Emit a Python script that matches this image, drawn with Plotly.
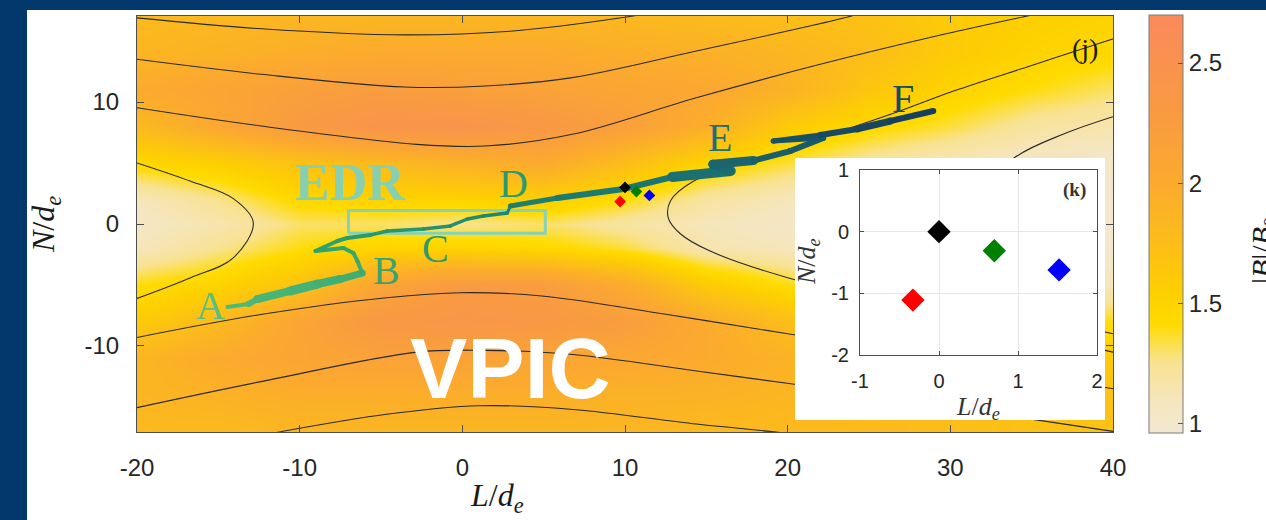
import plotly.graph_objects as go

W, H = 1266, 520

# ---------------- data ----------------
grid_L = [-20, -15, -10, -5, 0, 5, 10, 15, 20, 25, 30, 35, 40]
grid_N = [-17, -14, -11, -8, -5, -2, 0, 2, 5, 8, 11, 14, 17]
B_ratio = [
    [1.80, 1.80, 1.85, 1.85, 1.85, 1.85, 1.85, 1.80, 1.80, 1.80, 1.75, 1.70, 1.70],  # N=-17
    [1.85, 1.90, 1.95, 1.95, 1.95, 1.95, 1.90, 1.90, 1.85, 1.80, 1.75, 1.70, 1.70],  # N=-14
    [1.85, 2.00, 2.10, 2.15, 2.15, 2.10, 2.05, 2.00, 1.90, 1.75, 1.65, 1.60, 1.60],  # N=-11
    [1.60, 1.80, 2.10, 2.35, 2.40, 2.35, 2.25, 2.00, 1.75, 1.55, 1.45, 1.40, 1.40],  # N=-8
    [1.40, 1.50, 1.70, 2.10, 2.30, 2.25, 2.00, 1.60, 1.40, 1.25, 1.15, 1.10, 1.10],  # N=-5
    [1.10, 1.25, 1.40, 1.50, 1.50, 1.45, 1.35, 1.15, 1.10, 1.05, 1.02, 1.00, 1.00],  # N=-2
    [1.05, 1.15, 1.30, 1.30, 1.25, 1.30, 1.20, 1.10, 1.05, 1.02, 1.00, 1.00, 1.00],  # N=0
    [1.10, 1.25, 1.45, 1.50, 1.50, 1.55, 1.40, 1.20, 1.10, 1.05, 1.02, 1.00, 1.00],  # N=2
    [1.45, 1.55, 1.70, 1.80, 1.90, 2.00, 1.75, 1.50, 1.35, 1.20, 1.10, 1.05, 1.02],  # N=5
    [1.80, 2.05, 2.30, 2.45, 2.45, 2.35, 2.20, 1.95, 1.60, 1.45, 1.35, 1.20, 1.15],  # N=8
    [2.00, 2.10, 2.20, 2.25, 2.20, 2.15, 2.10, 2.05, 1.90, 1.65, 1.50, 1.40, 1.30],  # N=11
    [1.85, 1.90, 1.95, 2.00, 2.00, 2.00, 1.95, 1.92, 1.85, 1.75, 1.60, 1.50, 1.45],  # N=14
    [1.80, 1.82, 1.85, 1.85, 1.85, 1.85, 1.82, 1.80, 1.75, 1.70, 1.60, 1.55, 1.50],  # N=17
]

# magnetic field lines
fl_top1_L = [-20, -12.35, -3.56, 2.95, 9.77, 11.5]
fl_top1_N = [16.9, 16.0, 15.5, 15.8, 16.9, 17.3]
fl_top2_L = [-20, -12.35, -3.56, 1.41, 6.76, 14.38, 23.5, 25]
fl_top2_N = [13.5, 12.27, 11.23, 11.31, 12.0, 14.18, 16.9, 17.5]
fl_top3_L = [-20, -12.35, -2.8, 1.41, 6.76, 14.38, 22.0, 29.6, 34.2, 36]
fl_top3_N = [9.53, 8.03, 6.53, 6.39, 7.35, 10.35, 13.09, 15.55, 16.9, 17.4]
fl_left_L = [-20, -16.7, -14.1, -12.85, -14.1, -16.7, -20]
fl_left_N = [5.0, 3.5, 2.1, 0.1, -2.8, -4.4, -6.1]
fl_right_L = [40, 30, 20.0, 15.2, 13.4, 12.66, 12.8, 14.2, 17.0, 20.0, 22.8, 26.9, 30.2, 35, 39.6, 41]
fl_right_N = [-10.5, -7.5, -4.4, -2.2, -0.8, 0.5, 1.9, 3.5, 4.9, 6.0, 7.38, 9.26, 10.9, 13.0, 15.0, 15.6]
fl_isl_L = [40, 37, 33.9, 31.5, 31, 32, 35, 40]
fl_isl_N = [8.8, 7.4, 5.4, 2.0, -1, -4, -7, -9.0]
fl_bot1_L = [-20, -12.3, -4.67, -0.1, 4.89, 12.5, 20.2, 30, 40]
fl_bot1_N = [-9.3, -7.4, -6.04, -5.63, -5.9, -7.4, -9.04, -11.2, -13.5]
fl_bot2_L = [-20, -12.3, -2.77, 1.44, 6.8, 14.4, 20.2, 30, 40]
fl_bot2_N = [-15.05, -12.9, -10.5, -10.36, -10.7, -12.05, -13.1, -15.0, -17.0]
fl_bot3_L = [-13.5, -11.9, -4.67, 1.04, 6.8, 14.4, 20.2, 22]
fl_bot3_N = [-17.6, -17.2, -15.6, -14.9, -15.2, -16.4, -17.2, -17.6]
field_lines = [(fl_top1_L, fl_top1_N), (fl_top2_L, fl_top2_N), (fl_top3_L, fl_top3_N),
               (fl_left_L, fl_left_N), (fl_right_L, fl_right_N), (fl_isl_L, fl_isl_N),
               (fl_bot1_L, fl_bot1_N), (fl_bot2_L, fl_bot2_N), (fl_bot3_L, fl_bot3_N)]

# spacecraft-frame trajectory A..F
traj_L = [-14.44, -13.15, -12.60, -10.57, -8.91, -7.50, -6.15, -6.45, -6.70, -7.31, -9.03,
          -7.68, -7.07, -5.65, -4.61, -2.40, -0.74, 0.31, 1.29, 2.77, 2.95, 5.84, 9.90,
          12.90, 16.50, 15.40, 17.90, 20.16, 22.19, 19.11, 22.00, 24.28, 26.31, 28.95]
traj_N = [-6.80, -6.56, -6.15, -5.49, -4.92, -4.51, -4.02, -3.03, -2.38, -1.97, -2.21,
          -1.39, -1.15, -0.90, -0.57, -0.41, -0.16, 0.41, 0.66, 0.90, 1.48, 2.13, 2.87,
          3.85, 4.35, 4.90, 5.20, 5.98, 7.05, 6.80, 7.30, 7.79, 8.44, 9.26]

label_text = ["A", "B", "C", "D", "E", "F"]
label_L = [-15.47, -4.67, -1.66, 3.13, 15.86, 27.1]
label_N = [-6.64, -3.85, -1.97, 3.36, 7.05, 10.3]

edr_L = [-7.0, 5.1]
edr_N = [-0.75, 1.1]

probe_names = ["black", "green", "blue", "red"]
probe_L = [10.0, 10.7, 11.5, 9.7]
probe_N = [3.0, 2.66, 2.34, 1.84]
probe_dL = [0.0, 0.70, 1.52, -0.33]
probe_dN = [0.0, -0.31, -0.62, -1.11]

main_xticks = [-20, -10, 0, 10, 20, 30, 40]
main_yticks = [-10, 0, 10]
inset_xticks = [-1, 0, 1, 2]
inset_yticks = [-2, -1, 0, 1]
cbar_ticks = [1, 1.5, 2, 2.5]

# ---------------- styles ----------------
NAVY = "#02386b"
probe_colors = ["#000000", "#008000", "#0000ff", "#ff0000"]
label_colors = ["#5cbe82", "#3fa26c", "#2f9a6a", "#2d9a6e", "#1f6f78", "#1b4a66"]
traj_width = [4, 6, 8, 9, 8, 7, 4, 4, 4, 4, 4, 4, 4, 3.5, 3.5, 3.5, 3.5, 3.5, 3.5, 3,
              5, 6, 6, 10, 9, 9, 6, 6, 5, 5, 6, 7, 6]
traj_stops = [(0.0, (78, 186, 122)), (0.3, (48, 162, 108)), (0.55, (32, 138, 112)),
              (0.7, (27, 115, 113)), (0.82, (25, 95, 110)), (1.0, (22, 64, 96))]
colorscale = [[0.0, "#f2e8d2"], [0.07, "#f5e6c0"], [0.17, "#f8e290"], [0.26, "#ffdb00"],
              [0.33, "#fdd000"], [0.45, "#fcbe18"], [0.6, "#fbaa2e"], [0.75, "#f99c40"],
              [0.88, "#f9924e"], [1.0, "#fa8a5c"]]


def traj_color(t):
    for (t0, c0), (t1, c1) in zip(traj_stops[:-1], traj_stops[1:]):
        if t <= t1:
            f = (t - t0) / (t1 - t0)
            c = [round(a + (b - a) * f) for a, b in zip(c0, c1)]
            return "rgb(%d,%d,%d)" % tuple(c)
    return "rgb(%d,%d,%d)" % traj_stops[-1][1]


def px(x):
    return x / W


def py(y):
    return 1 - y / H


SANS = "Liberation Sans"
SERIF = "Liberation Serif"
TICKC = "#262626"

fig = go.Figure()

fig.add_trace(go.Heatmap(
    x=grid_L, y=grid_N, z=B_ratio, zsmooth="best", colorscale=colorscale,
    zmin=0.96, zmax=2.7, hoverinfo="skip",
    colorbar=dict(
        x=px(1149), xanchor="left", xpad=0, thickness=34, thicknessmode="pixels",
        len=418 / H, lenmode="fraction", y=py(15 + 209), yanchor="middle", ypad=0,
        outlinecolor="#7a7a7a", outlinewidth=1,
        tickvals=cbar_ticks, ticktext=[str(v) for v in cbar_ticks],
        ticks="inside", ticklen=5, tickcolor="#555555",
        tickfont=dict(family=SANS, size=24, color=TICKC),
    ),
))

for fl_L, fl_N in field_lines:
    fig.add_trace(go.Scatter(x=fl_L, y=fl_N, mode="lines", hoverinfo="skip",
                             line=dict(color="#2a2a2a", width=1.1, shape="spline", smoothing=1.0)))

# EDR box
fig.add_trace(go.Scatter(
    x=[edr_L[0], edr_L[1], edr_L[1], edr_L[0], edr_L[0]],
    y=[edr_N[0], edr_N[0], edr_N[1], edr_N[1], edr_N[0]],
    mode="lines", line=dict(color="#84d2bb", width=3), hoverinfo="skip"))

# trajectory
nseg = len(traj_L) - 1
for i in range(nseg):
    c = traj_color(i / (nseg - 1))
    w = traj_width[i]
    fig.add_trace(go.Scatter(
        x=traj_L[i:i + 2], y=traj_N[i:i + 2], mode="lines+markers", hoverinfo="skip",
        line=dict(color=c, width=w), marker=dict(color=c, size=w, line=dict(width=0))))

# probes in main panel
fig.add_trace(go.Scatter(x=probe_L, y=probe_N, mode="markers", hoverinfo="skip",
                         marker=dict(symbol="diamond", size=9, color=probe_colors, line=dict(width=0))))

# white box behind the inset (own subplot so it paints over the main panel)
fig.add_trace(go.Scatter(x=[None], y=[None], xaxis="x2", yaxis="y2", hoverinfo="skip"))

# inset
fig.add_trace(go.Scatter(x=probe_dL, y=probe_dN, mode="markers", xaxis="x3", yaxis="y3",
                         hoverinfo="skip",
                         marker=dict(symbol="diamond", size=18, color=probe_colors, line=dict(width=0))))

axis_common = dict(showline=True, linecolor="#4d4d4d", linewidth=1, mirror="ticks",
                   ticks="inside", tickcolor="#4d4d4d", showgrid=False, zeroline=False)

fig.update_layout(
    width=W, height=H, margin=dict(l=0, r=0, t=0, b=0, pad=0, autoexpand=False),
    autosize=False,
    paper_bgcolor=NAVY, plot_bgcolor="white", showlegend=False,
    xaxis=dict(domain=[px(137), px(1113)], range=[-20, 40], tickvals=main_xticks,
               ticktext=[str(v) for v in main_xticks], ticklen=7,
               tickfont=dict(family=SANS, size=24, color=TICKC), ticklabelstandoff=14,
               anchor="y", **axis_common),
    yaxis=dict(domain=[py(432), py(16)], range=[-17.05, 17.05], tickvals=main_yticks,
               ticktext=[str(v) for v in main_yticks], ticklen=7,
               tickfont=dict(family=SANS, size=24, color=TICKC), ticklabelstandoff=12,
               anchor="x", **axis_common),
    xaxis2=dict(domain=[px(795), px(1105)], visible=False, anchor="y2", range=[0, 1]),
    yaxis2=dict(domain=[py(420), py(158)], visible=False, anchor="x2", range=[0, 1]),
    xaxis3=dict(domain=[px(860), px(1097)], range=[-1, 2], tickvals=inset_xticks,
                ticktext=[str(v) for v in inset_xticks], anchor="y3",
                showline=True, linecolor="#4d4d4d", mirror="ticks", ticks="inside",
                ticklen=4, tickcolor="#4d4d4d", showgrid=True, gridcolor="#e6e6e6",
                zeroline=False, tickfont=dict(family=SANS, size=20, color=TICKC),
                ticklabelstandoff=8),
    yaxis3=dict(domain=[py(355), py(170)], range=[-2, 1], tickvals=inset_yticks,
                ticktext=[str(v) for v in inset_yticks], anchor="x3",
                showline=True, linecolor="#4d4d4d", mirror="ticks", ticks="inside",
                ticklen=4, tickcolor="#4d4d4d", showgrid=True, gridcolor="#e6e6e6",
                zeroline=False, tickfont=dict(family=SANS, size=20, color=TICKC),
                ticklabelstandoff=6),
)

# white page area (navy frame on left/top)
fig.add_shape(type="rect", xref="paper", yref="paper", x0=px(27), x1=1, y0=0, y1=py(10),
              fillcolor="white", line=dict(width=0), layer="below")

C = dict(xanchor="center", yanchor="middle", showarrow=False)
ann = []
for t, L, N, c in zip(label_text, label_L, label_N, label_colors):
    ann.append(dict(x=L, y=N, xref="x", yref="y", text=t,
                    font=dict(family=SERIF, size=40, color=c), **C))
ann.append(dict(x=-6.88, y=3.44, xref="x", yref="y", text="<b>EDR</b>",
                font=dict(family=SERIF, size=52, color="#86cfb0"), **C))
ann.append(dict(x=2.95, y=-11.8, xref="x", yref="y", text="<b>VPIC</b>",
                font=dict(family=SANS, size=86, color="white"), **C))
ann.append(dict(x=38.3, y=14.4, xref="x", yref="y", text="(j)",
                font=dict(family=SERIF, size=28, color="#1a1a1a"), **C))
ann.append(dict(x=1.72, y=0.68, xref="x3", yref="y3", text="<b>(k)</b>",
                font=dict(family=SERIF, size=19, color="#333333"), **C))
ann.append(dict(x=px(45), y=py(225), xref="paper", yref="paper", textangle=-90,
                text="<i>N</i>/<i>d<sub>e</sub></i>",
                font=dict(family=SERIF, size=32, color="#1a1a1a"), **C))
ann.append(dict(x=px(497), y=py(497), xref="paper", yref="paper",
                text="<i>L</i>/<i>d<sub>e</sub></i>",
                font=dict(family=SERIF, size=32, color="#1a1a1a"), **C))
ann.append(dict(x=px(808), y=py(262), xref="paper", yref="paper", textangle=-90,
                text="<i>N</i>/<i>d<sub>e</sub></i>",
                font=dict(family=SERIF, size=26, color="#333333"), **C))
ann.append(dict(x=px(978), y=py(408), xref="paper", yref="paper",
                text="<i>L</i>/<i>d<sub>e</sub></i>",
                font=dict(family=SERIF, size=26, color="#333333"), **C))
ann.append(dict(x=px(1243), y=py(250), xref="paper", yref="paper", textangle=-90,
                xanchor="left", yanchor="middle",
                text="|<i>B</i>|/<i>B</i><sub>0</sub>", showarrow=False,
                font=dict(family=SERIF, size=30, color="#1a1a1a")))
fig.update_layout(annotations=ann)

fig.write_html("out.html")
